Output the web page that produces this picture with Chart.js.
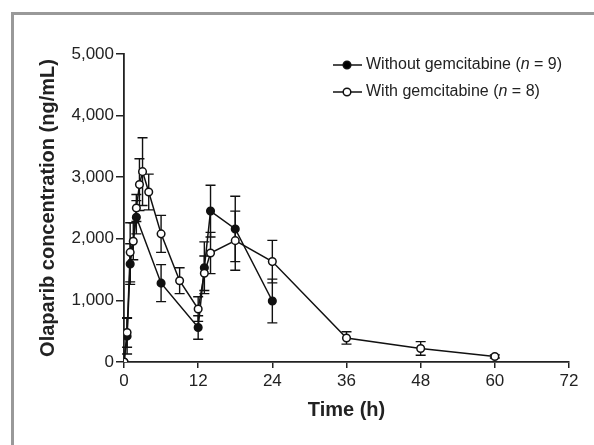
<!DOCTYPE html>
<html>
<head>
<meta charset="utf-8">
<script src="https://cdn.jsdelivr.net/npm/chart.js@4"></script>
<style>
  body { margin:0; background:#fff; }
  .wrap { position:relative; width:594px; height:445px; overflow:hidden; }
  .frame { position:absolute; left:11px; top:12px; width:600px; height:450px;
           border-left:3px solid #999; border-top:3px solid #999; pointer-events:none; }
</style>
</head>
<body>
<div class="wrap">
  <canvas id="chart" width="594" height="445"></canvas>
  <div class="frame"></div>
</div>
<script>
// DATA

const timesWith = [0, 0.5, 1, 1.5, 2, 2.5, 3, 4, 6, 9, 12, 13, 14, 18, 24, 36, 48, 60];
const meanWith  = [0, 480, 1780, 1960, 2500, 2880, 3090, 2760, 2080, 1320, 860, 1440, 1770, 1970, 1630, 390, 220, 90];
const sdWith    = [0, 240, 480, 300, 220, 420, 550, 290, 300, 210, 200, 280, 335, 480, 345, 100, 110, 25];

const timesWithout = [0, 0.5, 1, 2, 6, 12, 13, 14, 18, 24];
const meanWithout  = [0, 420, 1590, 2350, 1280, 560, 1530, 2450, 2160, 990];
const sdWithout    = [0, 290, 330, 270, 300, 190, 420, 420, 530, 355];

const xTicks = [0, 12, 24, 36, 48, 60, 72];
const yTicks = [0, 1000, 2000, 3000, 4000, 5000];

const legendItems = [
  {pre:'Without gemcitabine (', n:'n', post:' = 9)', fill:'#000'},
  {pre:'With gemcitabine (', n:'n', post:' = 8)', fill:'#fff'}
];

const FONT = '"Liberation Sans", Arial, Helvetica, sans-serif';

function points(xs, ys){
  return xs.map((x,i) => ({x:x, y:ys[i]}));
}

// error bars drawn from the scales
const errorBars = {
  id:'errorBars',
  beforeDatasetsDraw(chart){
    const {ctx, scales:{x, y}} = chart;
    const sets = [[timesWithout, meanWithout, sdWithout],[timesWith, meanWith, sdWith]];
    ctx.save();
    ctx.strokeStyle = '#111';
    ctx.lineWidth = 1.4;
    sets.forEach(([ts, ms, sds]) => {
      ts.forEach((t,i) => {
        if (!sds[i]) return;
        const px = x.getPixelForValue(t);
        const top = y.getPixelForValue(ms[i] + sds[i]);
        const bot = y.getPixelForValue(Math.max(0, ms[i] - sds[i]));
        ctx.beginPath();
        ctx.moveTo(px, top); ctx.lineTo(px, bot);
        ctx.moveTo(px-5, top); ctx.lineTo(px+5, top);
        ctx.moveTo(px-5, bot); ctx.lineTo(px+5, bot);
        ctx.stroke();
      });
    });
    ctx.restore();
  }
};

// legend with italic n
const customLegend = {
  id:'customLegend',
  afterDraw(chart){
    const ctx = chart.ctx;
    ctx.save();
    legendItems.forEach((it, i) => {
      const yy = 65 + i*27;
      ctx.strokeStyle = '#111';
      ctx.lineWidth = 1.5;
      ctx.beginPath();
      ctx.moveTo(333, yy); ctx.lineTo(362, yy);
      ctx.stroke();
      ctx.beginPath();
      ctx.arc(347, yy, 3.8, 0, Math.PI*2);
      ctx.fillStyle = it.fill;
      ctx.fill();
      ctx.stroke();
      ctx.fillStyle = '#222';
      ctx.textBaseline = 'middle';
      let xx = 366;
      ctx.font = '16px ' + FONT;
      ctx.fillText(it.pre, xx, yy); xx += ctx.measureText(it.pre).width;
      ctx.font = 'italic 16px ' + FONT;
      ctx.fillText(it.n, xx, yy); xx += ctx.measureText(it.n).width;
      ctx.font = '16px ' + FONT;
      ctx.fillText(it.post, xx, yy);
    });
    ctx.restore();
  }
};

const ctx = document.getElementById('chart');
new Chart(ctx, {
  type:'line',
  data:{
    datasets:[
      {
        label:'With gemcitabine (n = 8)',
        data:points(timesWith, meanWith),
        borderColor:'#111',
        borderWidth:1.5,
        pointBackgroundColor:'#fff',
        pointBorderColor:'#111',
        pointBorderWidth:1.5,
        pointRadius:3.8,
        tension:0,
        order:0
      },
      {
        label:'Without gemcitabine (n = 9)',
        data:points(timesWithout, meanWithout),
        borderColor:'#111',
        borderWidth:1.5,
        pointBackgroundColor:'#111',
        pointBorderColor:'#111',
        pointBorderWidth:1.5,
        pointRadius:3.8,
        tension:0,
        order:1
      }
    ]
  },
  options:{
    responsive:false,
    animation:false,
    devicePixelRatio:1,
    layout:{ padding:{ left:0, top:54, right:25, bottom:0 } },
    plugins:{
      legend:{ display:false },
      tooltip:{ enabled:false }
    },
    scales:{
      x:{
        type:'linear',
        min:0, max:72,
        afterBuildTicks(scale){ scale.ticks = xTicks.map(v => ({value:v})); },
        afterFit(scale){ scale.height = 83; },
        ticks:{ color:'#222', font:{ family:FONT, size:17 }, padding:3, maxRotation:0 },
        grid:{ display:true, drawOnChartArea:false, tickLength:6, color:'#222', lineWidth:1.5 },
        border:{ display:true, color:'#222', width:1.8 },
        title:{ display:true, text:'Time (h)', color:'#222',
                font:{ family:FONT, size:20, weight:'bold' }, padding:{ top:0, bottom:23 } }
      },
      y:{
        min:0, max:5000,
        afterBuildTicks(scale){ scale.ticks = yTicks.map(v => ({value:v})); },
        afterFit(scale){ scale.width = 124; },
        ticks:{ color:'#222', font:{ family:FONT, size:17 }, padding:2 },
        grid:{ display:true, drawOnChartArea:false, tickLength:8, color:'#222', lineWidth:1.5 },
        border:{ display:true, color:'#222', width:1.8 },
        title:{ display:true, text:'Olaparib concentration (ng/mL)', color:'#222',
                font:{ family:FONT, size:20, weight:'bold' }, padding:{ top:36, bottom:0 } }
      }
    }
  },
  plugins:[errorBars, customLegend]
});
</script>
</body>
</html>
